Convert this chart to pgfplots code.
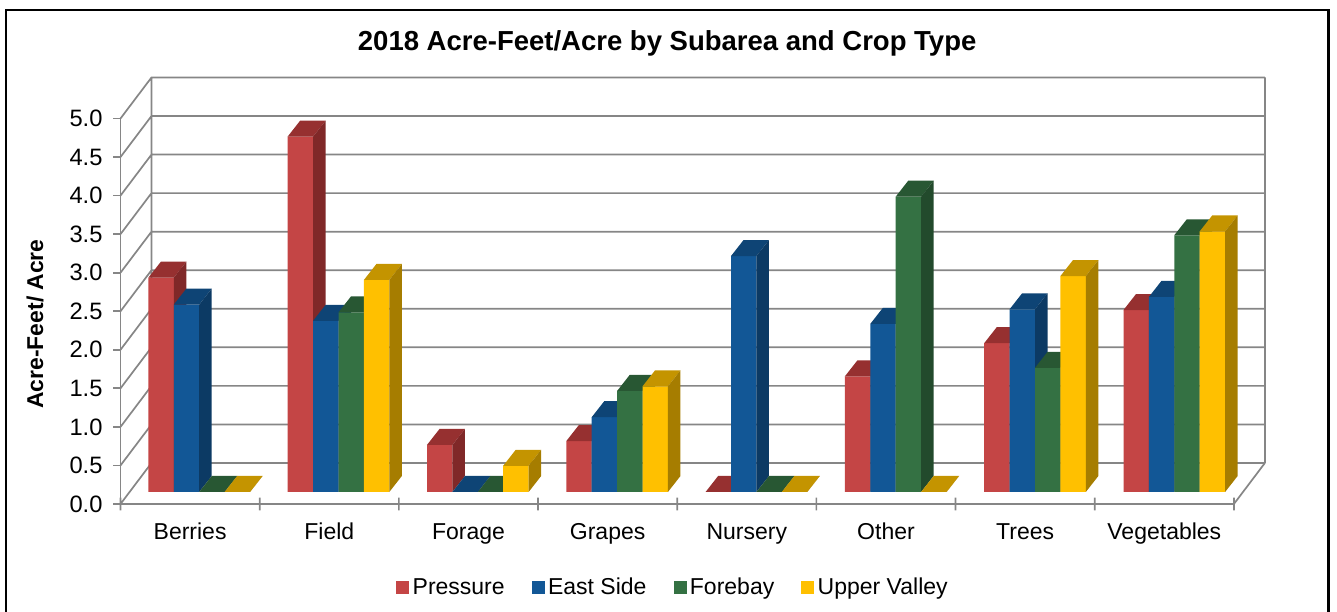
\documentclass[border=0pt]{standalone}
\usepackage{fontspec}
\setmainfont{Liberation Sans}
\usepackage{pgfplots}
\usepackage{pgfplotstable}
\pgfplotsset{compat=1.18}

\definecolor{gridc}{RGB}{134,134,134}
\definecolor{redf}{RGB}{196,69,69}
\definecolor{redt}{RGB}{150,48,48}
\definecolor{reds}{RGB}{128,40,40}
\definecolor{bluef}{RGB}{18,87,150}
\definecolor{bluet}{RGB}{14,68,117}
\definecolor{blues}{RGB}{12,58,100}
\definecolor{greenf}{RGB}{52,113,67}
\definecolor{greent}{RGB}{40,87,51}
\definecolor{greens}{RGB}{34,74,44}
\definecolor{yellowf}{RGB}{255,192,0}
\definecolor{yellowt}{RGB}{196,148,0}
\definecolor{yellows}{RGB}{166,125,0}

\pgfplotstableread{
x Pressure EastSide Forebay UpperValley
0 2.78 2.43 0    0
1 4.61 2.22 2.33 2.75
2 0.61 0    0    0.34
3 0.66 0.97 1.31 1.37
4 0    3.06 0    0
5 1.50 2.18 3.83 0
6 1.93 2.37 1.61 2.80
7 2.36 2.53 3.33 3.38
}\acredata

% one series: front faces as ybar, top and side faces as polygons
% #1 column, #2 bar index, #3 front, #4 top, #5 side
\newcommand\barseries[5]{%
  \addplot[ybar,bar width=25.4pt,bar shift={(#2-1.5)*25.4pt},fill=#3,draw=none,forget plot]
    table[x=x,y=#1]{\acredata};
  \pgfplotsinvokeforeach{0,...,7}{%
    \pgfplotstablegetelem{##1}{#1}\of\acredata
    \pgfmathsetmacro\val{\pgfplotsretval}%
    \pgfmathsetmacro\valb{\val+0.2075}%
    \pgfmathsetmacro\xa{##1+(#2-2)*0.1824}%
    \pgfmathsetmacro\xb{\xa+0.1824}%
    \pgfmathsetmacro\xc{\xb+0.09}%
    \pgfmathsetmacro\xd{\xa+0.09}%
    \addplot[fill=#4,draw=none,forget plot] coordinates {(\xa,\val)(\xb,\val)(\xc,\valb)(\xd,\valb)} -- cycle;
    \addplot[fill=#5,draw=none,forget plot] coordinates {(\xb,0)(\xb,\val)(\xc,\valb)(\xc,0.2075)} -- cycle;
  }%
}

\begin{document}
\begin{tikzpicture}
\path[use as bounding box] (0,0) rectangle (1337pt,612pt);
\draw[black,line width=2.5pt] (6pt,-2pt) -- (6pt,602pt) -- (1328.5pt,602pt) -- (1328.5pt,-2pt);

% frame: walls, floor, grid and the tick labels on the front plane
\begin{axis}[
  at={(120.5pt,108pt)},anchor=south west,
  scale only axis,width=1113.5pt,height=385.5pt,
  xmin=0,xmax=8,ymin=0,ymax=5,
  clip=false,
  axis x line=bottom,axis y line=left,
  axis line style={-,gridc,line width=1.7pt},
  xtick={0,...,8},
  xticklabels={Berries,Field,Forage,Grapes,Nursery,Other,Trees,Vegetables},
  x tick label as interval,
  xtick style={draw=none},
  ytick={0,0.5,...,5},
  ytick align=outside,
  ytick style={gridc,line width=1.7pt},
  major tick length=7.5pt,
  xticklabel style={font=\fontsize{23}{27}\selectfont,black,yshift=-12pt},
  yticklabel style={font=\fontsize{23.7}{27}\selectfont,black,xshift=-7pt},
  /pgf/number format/assume math mode=true,
  /pgf/number format/fixed,/pgf/number format/fixed zerofill,/pgf/number format/precision=1,
  title={\textbf{2018 Acre-Feet/Acre by Subarea and Crop Type}},
  title style={at={(axis description cs:0.491,1.18)},anchor=center,font=\fontsize{27.5}{32}\selectfont},
  ylabel={\textbf{Acre-Feet/ Acre}},
  ylabel style={at={(axis description cs:-0.0768,0.467)},anchor=center,font=\fontsize{22.9}{27}\selectfont},
  legend columns=4,
  legend style={at={(axis description cs:0.4962,-0.2156)},anchor=center,draw=none,fill=none,
    font=\fontsize{23}{27}\selectfont,
    /tikz/every even column/.append style={column sep=25pt},
    /tikz/every odd column/.append style={column sep=2pt}},
  legend image code/.code={\fill[#1] (0pt,-6pt) rectangle (12pt,6pt);},
]
\addplot[gridc,line width=1.7pt,forget plot,unbounded coords=jump] coordinates {
  (0,0)(0.2226,0.532)(8.2226,0.532)(nan,nan)
  (0,0.5)(0.2226,1.032)(8.2226,1.032)(nan,nan)
  (0,1)(0.2226,1.532)(8.2226,1.532)(nan,nan)
  (0,1.5)(0.2226,2.032)(8.2226,2.032)(nan,nan)
  (0,2)(0.2226,2.532)(8.2226,2.532)(nan,nan)
  (0,2.5)(0.2226,3.032)(8.2226,3.032)(nan,nan)
  (0,3)(0.2226,3.532)(8.2226,3.532)(nan,nan)
  (0,3.5)(0.2226,4.032)(8.2226,4.032)(nan,nan)
  (0,4)(0.2226,4.532)(8.2226,4.532)(nan,nan)
  (0,4.5)(0.2226,5.032)(8.2226,5.032)(nan,nan)
  (0,5)(0.2226,5.532)(8.2226,5.532)(nan,nan)
  (0.2226,0.532)(0.2226,5.532)(nan,nan)
  (8.2226,0.532)(8.2226,5.532)(nan,nan)
  (8,0)(8.2226,0.532)(nan,nan)
  (0,-0.084)(0,0.084)(nan,nan)
  (1,-0.084)(1,0.084)(nan,nan)
  (2,-0.084)(2,0.084)(nan,nan)
  (3,-0.084)(3,0.084)(nan,nan)
  (4,-0.084)(4,0.084)(nan,nan)
  (5,-0.084)(5,0.084)(nan,nan)
  (6,-0.084)(6,0.084)(nan,nan)
  (7,-0.084)(7,0.084)(nan,nan)
  (8,-0.084)(8,0.084)
};
\addlegendimage{redf}\addlegendentry{Pressure}
\addlegendimage{bluef}\addlegendentry{East Side}
\addlegendimage{greenf}\addlegendentry{Forebay}
\addlegendimage{yellowf}\addlegendentry{Upper Valley}
\end{axis}

% bars: front plane sits a little behind the front axis
\begin{axis}[
  at={(129.55pt,120pt)},anchor=south west,
  scale only axis,width=1114.4pt,height=385.5pt,
  xmin=-0.5,xmax=7.5,ymin=0,ymax=5,
  clip=false,hide axis,
]
\barseries{Pressure}{0}{redf}{redt}{reds}
\barseries{EastSide}{1}{bluef}{bluet}{blues}
\barseries{Forebay}{2}{greenf}{greent}{greens}
\barseries{UpperValley}{3}{yellowf}{yellowt}{yellows}
\end{axis}
\end{tikzpicture}
\end{document}
